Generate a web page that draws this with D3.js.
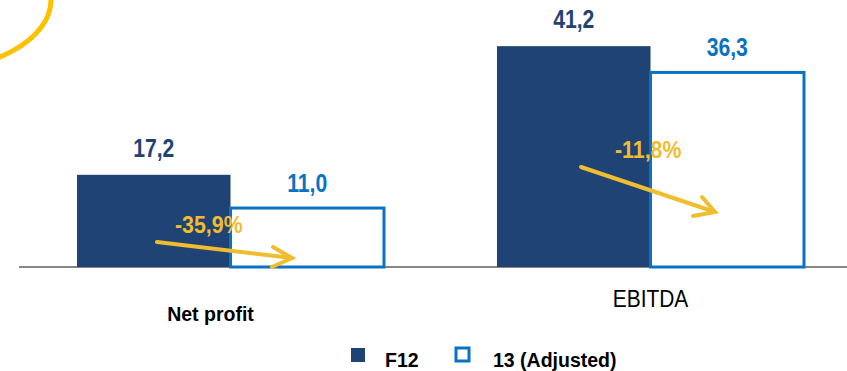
<!DOCTYPE html>
<html>
<head>
<meta charset="utf-8">
<script src="https://cdn.jsdelivr.net/npm/d3@7"></script>
<style>
  html, body { margin: 0; padding: 0; background: #fff; }
  svg { display: block; }
  text { font-family: "Liberation Sans", Arial, sans-serif; }
</style>
</head>
<body>
<svg id="chart" width="847" height="371"></svg>
<script>
// Values
const categories = ["Net profit", "EBITDA"];
const seriesNames = ["F12", "13 (Adjusted)"];
const f12Values = [17.2, 41.2];
const adjustedValues = [11.0, 36.3];
const changeLabels = ["-35,9%", "-11,8%"];

const W = 847, H = 371;
const navy = "#1f4374";
const blue = "#0a72c2";
const gold = "#f0bd2f";

const svg = d3.select("#chart");

const locale = d3.formatLocale({ decimal: ",", thousands: ".", grouping: [3], currency: ["", "€"] });
const fmt = locale.format(".1f");

const baseY = 267;
const x0 = d3.scaleBand().domain(categories).range([35, 846]).paddingInner(0.26905).paddingOuter(0.1);
const x1 = d3.scaleBand().domain(seriesNames).range([0, x0.bandwidth()]);
const y = d3.scaleLinear().domain([0, 45]).range([baseY, baseY - 45 * 5.36]);

// condensed text: placed by translate, squeezed horizontally
function narrow(sel, fx, fy, sx) {
  return sel.attr("x", 0).attr("y", 0)
    .attr("transform", (d, i) => `translate(${fx(d, i)},${fy(d, i)}) scale(${sx},1)`);
}

// decorative ring in the corner
svg.append("ellipse")
  .attr("cx", -80).attr("cy", 0).attr("rx", 131).attr("ry", 72)
  .attr("fill", "none").attr("stroke", "#ffc000").attr("stroke-width", 5);

// baseline
svg.append("line")
  .attr("x1", 19).attr("x2", W).attr("y1", baseY).attr("y2", baseY)
  .attr("stroke", "#878787").attr("stroke-width", 2);

const rows = categories.map((c, i) => ({ cat: c, i, vals: [f12Values[i], adjustedValues[i]] }));

const groups = svg.selectAll("g.grp").data(rows).join("g")
  .attr("class", "grp")
  .attr("transform", d => `translate(${x0(d.cat)},0)`);

// F12 bars (filled)
groups.append("rect")
  .attr("x", x1(seriesNames[0]))
  .attr("y", d => y(d.vals[0]))
  .attr("width", x1.bandwidth())
  .attr("height", d => baseY - y(d.vals[0]))
  .attr("fill", navy);

// adjusted bars (outlined)
groups.append("rect")
  .attr("x", x1(seriesNames[1]))
  .attr("y", d => y(d.vals[1]))
  .attr("width", x1.bandwidth())
  .attr("height", d => baseY - y(d.vals[1]))
  .attr("fill", "#fff")
  .attr("stroke", blue).attr("stroke-width", 3);

// value labels
narrow(groups.append("text"),
    () => x1(seriesNames[0]) + x1.bandwidth() / 2,
    d => y(d.vals[0]) - 18, 0.83)
  .attr("text-anchor", "middle")
  .attr("font-size", 25.5).attr("font-weight", "bold")
  .attr("fill", navy)
  .text(d => fmt(d.vals[0]));

narrow(groups.append("text"),
    () => x1(seriesNames[1]) + x1.bandwidth() / 2,
    d => y(d.vals[1]) - 16, 0.83)
  .attr("text-anchor", "middle")
  .attr("font-size", 25.5).attr("font-weight", "bold")
  .attr("fill", blue)
  .text(d => fmt(d.vals[1]));

// change arrows (offsets within each group, measured from the baseline)
const arrowGeom = [
  { sx: 80, sy: 25, tx: 215, ty: 9, a1: [196, 20], a2: [195, 0] },
  { sx: 84, sy: 100, tx: 218, ty: 55, a1: [205, 70], a2: [196, 51] }
];
const pctGeom = [
  { x: 98, y: 34 },
  { x: 118, y: 109 }
];

narrow(groups.append("text"),
    d => pctGeom[d.i].x,
    d => baseY - pctGeom[d.i].y, 0.89)
  .attr("font-size", 24).attr("font-weight", "bold")
  .attr("fill", gold)
  .text(d => changeLabels[d.i]);

groups.append("line")
  .attr("x1", d => arrowGeom[d.i].sx).attr("y1", d => baseY - arrowGeom[d.i].sy)
  .attr("x2", d => arrowGeom[d.i].tx).attr("y2", d => baseY - arrowGeom[d.i].ty)
  .attr("stroke", gold).attr("stroke-width", 4).attr("stroke-linecap", "round");

groups.append("polyline")
  .attr("points", d => {
    const g = arrowGeom[d.i];
    return [[g.a1[0], baseY - g.a1[1]], [g.tx, baseY - g.ty], [g.a2[0], baseY - g.a2[1]]].map(p => p.join(",")).join(" ");
  })
  .attr("fill", "none").attr("stroke", gold).attr("stroke-width", 4)
  .attr("stroke-linecap", "round").attr("stroke-linejoin", "miter");

// category labels
const catStyle = [
  { dx: -20, y: 321, size: 19.5, weight: "bold", sx: 1 },
  { dx: 0, y: 307, size: 23, weight: "normal", sx: 0.91 }
];
narrow(groups.append("text"),
    d => x0.bandwidth() / 2 + catStyle[d.i].dx,
    d => catStyle[d.i].y, 1)
  .attr("transform", d => `translate(${x0.bandwidth() / 2 + catStyle[d.i].dx},${catStyle[d.i].y}) scale(${catStyle[d.i].sx},1)`)
  .attr("text-anchor", "middle")
  .attr("font-size", d => catStyle[d.i].size)
  .attr("font-weight", d => catStyle[d.i].weight)
  .attr("fill", "#000")
  .text(d => d.cat);

// legend
const legend = svg.append("g");
legend.append("rect").attr("x", 351).attr("y", 348).attr("width", 14).attr("height", 14).attr("fill", navy);
legend.append("text").attr("x", 385).attr("y", 367).attr("font-size", 19.5).attr("font-weight", "bold").text(seriesNames[0]);
legend.append("rect").attr("x", 456).attr("y", 348).attr("width", 13).attr("height", 13)
  .attr("fill", "#fff").attr("stroke", blue).attr("stroke-width", 3);
legend.append("text").attr("x", 493).attr("y", 367).attr("font-size", 19.5).attr("font-weight", "bold").text(seriesNames[1]);
</script>
</body>
</html>
